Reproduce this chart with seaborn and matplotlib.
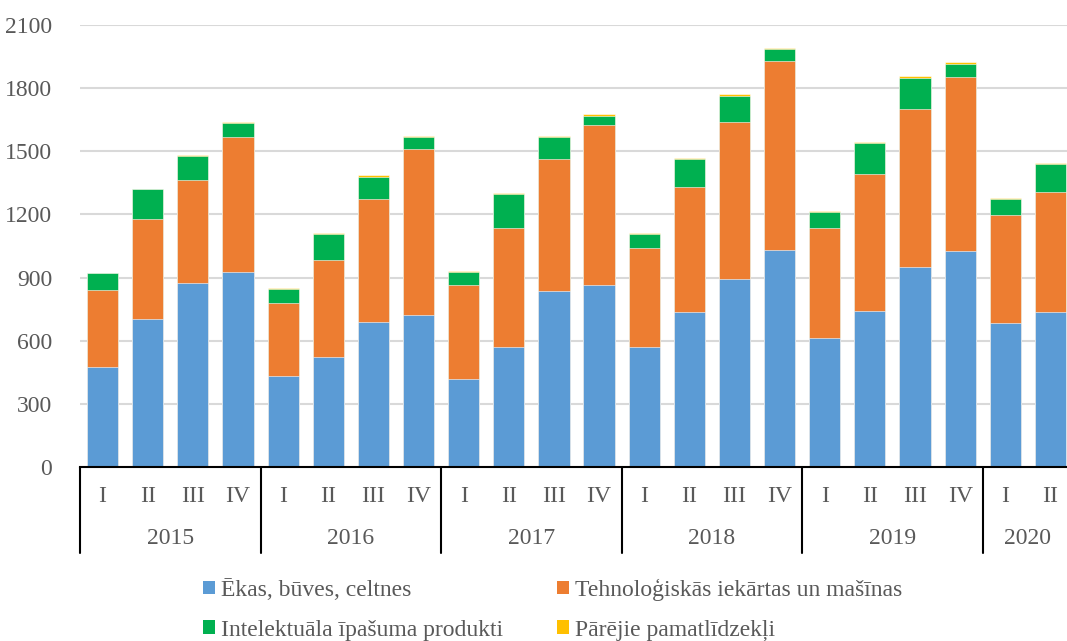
import numpy as np
import pandas as pd
import matplotlib
matplotlib.use('Agg')
import matplotlib.pyplot as plt
import seaborn as sns
from matplotlib.patches import Patch

years = ['2015', '2016', '2017', '2018', '2019', '2020']
quarters = ['I', 'II', 'III', 'IV']
series_names = ['Ēkas, būves, celtnes', 'Tehnoloģiskās iekārtas un mašīnas',
                'Intelektuāla īpašuma produkti', 'Pārējie pamatlīdzekļi']
colors = ['#5B9BD5', '#ED7D31', '#00B050', '#FFC000']

# values per quarter, 2015 Q1 .. 2020 Q2
ekas = [476, 704, 874, 925, 431, 521, 687, 720, 420, 571, 836, 866,
        571, 735, 894, 1031, 611, 740, 949, 1024, 682, 738]
tehn = [365, 473, 488, 643, 347, 461, 587, 792, 443, 564, 627, 759,
        468, 596, 743, 896, 524, 652, 751, 830, 515, 567]
intel = [79, 143, 117, 68, 69, 126, 105, 54, 63, 163, 103, 44,
         66, 134, 128, 60, 76, 146, 149, 63, 75, 133]
parejie = [2, 3, 3, 3, 5, 4, 6, 6, 5, 3, 5, 6,
           5, 4, 5, 5, 3, 4, 7, 7, 4, 5]

n = len(ekas)
periods = [f'{years[i // 4]}-{quarters[i % 4]}' for i in range(n)]
df = pd.DataFrame({'period': periods, 'ekas': ekas, 'tehn': tehn,
                   'intel': intel, 'parejie': parejie})
cols = ['ekas', 'tehn', 'intel', 'parejie']
cum = df[cols].cumsum(axis=1)

sns.set_style('white')
plt.rcParams['font.family'] = ['Liberation Serif', 'DejaVu Serif']
txt = '#595959'
fs = 17

fig = plt.figure(figsize=(10.67, 6.41), dpi=100)
ax = fig.add_axes([80 / 1067, (641 - 467) / 641, 993 / 1067, 442 / 641])

for yv in range(300, 2101, 300):
    ax.axhline(yv, color='#D9D9D9', lw=1.5, zorder=0)

# stacked bars drawn as layered cumulative totals (top layer first)
for c, col in zip(colors[::-1], cols[::-1]):
    sns.barplot(x=df['period'], y=cum[col], color=c, width=0.69,
                edgecolor='white', linewidth=0.4, saturation=1, ax=ax, zorder=2)

ax.set_xlim(-0.5, n - 0.5)
ax.set_ylim(0, 2100)
ax.set_yticks(range(0, 2101, 300))
ax.set_yticklabels([str(v) for v in range(0, 2101, 300)], fontsize=fs, color=txt)
ax.tick_params(axis='y', length=0, pad=20)
ax.set_xticks([])
ax.set_xlabel('')
ax.set_ylabel('')
for s in ['left', 'right', 'top']:
    ax.spines[s].set_visible(False)
ax.spines['bottom'].set_color('black')
ax.spines['bottom'].set_linewidth(1.5)

trans = ax.get_xaxis_transform()
for i in range(n):
    ax.text(i, -30 / 442, quarters[i % 4], transform=trans, ha='center',
            va='center', fontsize=fs, color=txt, clip_on=False)
for k, yr in enumerate(years):
    start = k * 4 - 0.5
    cnt = min(4, n - k * 4)
    ax.text(start + cnt / 2, -71 / 442, yr, transform=trans, ha='center',
            va='center', fontsize=fs, color=txt, clip_on=False)
    ax.plot([start, start], [0, -86 / 442], transform=trans, color='black',
            lw=1.5, clip_on=False)

# legend filled row by row
order = [0, 2, 1, 3]
handles = [Patch(facecolor=colors[i], edgecolor='none') for i in order]
labels = [series_names[i] for i in order]
fig.legend(handles, labels, loc='center', bbox_to_anchor=(0.518, 0.049),
           ncol=2, frameon=False, fontsize=fs, handlelength=0.5,
           handleheight=0.5, handletextpad=0.25, columnspacing=2.3,
           labelspacing=0.8, labelcolor=txt)

fig.savefig('out.png', dpi=100)
